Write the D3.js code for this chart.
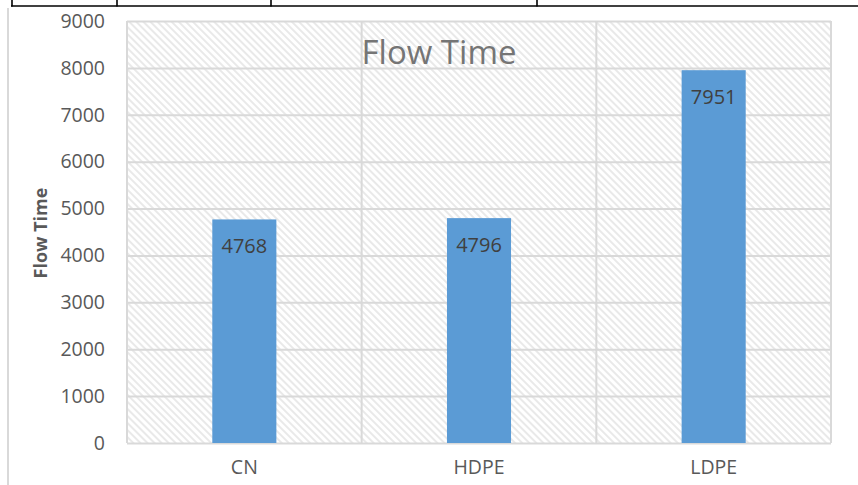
<!DOCTYPE html>
<html><head><meta charset="utf-8">
<script src="https://cdn.jsdelivr.net/npm/d3@7/dist/d3.min.js"></script>
<style>html,body{margin:0;padding:0;background:#fff;}svg{display:block;}</style>
</head><body>
<script>
const categories = ["CN", "HDPE", "LDPE"];
const values = [4768, 4796, 7951];
const yTicks = [0, 1000, 2000, 3000, 4000, 5000, 6000, 7000, 8000, 9000];
const chartTitle = "Flow Time";
const yAxisTitle = "Flow Time";

const W = 858, H = 485;
const plot = {left: 127, right: 831, top: 21, bottom: 443};
const font = "'Open Sans', 'Liberation Sans', sans-serif";

const svg = d3.select("body").append("svg").attr("width", W).attr("height", H);

const defs = svg.append("defs");
const pat = defs.append("pattern").attr("id", "hatch").attr("patternUnits", "userSpaceOnUse")
  .attr("width", 5).attr("height", 5).attr("patternTransform", "rotate(-45)");
pat.append("rect").attr("width", 5).attr("height", 5).attr("fill", "#ffffff");
pat.append("line").attr("x1", 1).attr("y1", 0).attr("x2", 1).attr("y2", 5)
  .attr("stroke", "#e9e9e9").attr("stroke-width", 2);

// top table lines
svg.append("line").attr("x1", 11).attr("x2", W).attr("y1", 6).attr("y2", 6).attr("stroke", "#000").attr("stroke-width", 1.6);
[12, 117, 271, 537].forEach(x => svg.append("line").attr("x1", x).attr("x2", x).attr("y1", 0).attr("y2", 6.5).attr("stroke", "#000").attr("stroke-width", 1.6));
// chart frame left edge
svg.append("line").attr("x1", 8).attr("x2", 8).attr("y1", 8).attr("y2", H).attr("stroke", "#d9d9d9").attr("stroke-width", 2);

const x = d3.scaleBand().domain(categories).range([plot.left, plot.right]).paddingInner(0.727).paddingOuter(0.3635);
const xCat = d3.scaleBand().domain(categories).range([plot.left, plot.right]).padding(0);
const y = d3.scaleLinear().domain([0, 9000]).range([plot.bottom, plot.top]);

// plot background
svg.append("rect").attr("x", plot.left).attr("y", plot.top).attr("width", plot.right - plot.left).attr("height", plot.bottom - plot.top).attr("fill", "url(#hatch)");

// horizontal gridlines
const yAxis = d3.axisLeft(y).tickValues(yTicks).tickSize(-(plot.right - plot.left)).tickPadding(22).tickFormat(d3.format("d"));
const gy = svg.append("g").attr("transform", `translate(${plot.left},0)`).call(yAxis);
gy.select(".domain").remove();
gy.selectAll(".tick line").attr("stroke", "#d9d9d9").attr("stroke-width", 2);
gy.selectAll(".tick text").attr("fill", "#595959").style("font-family", font).style("font-size", "19.5px");

// vertical category gridlines
const vb = categories.map(c => xCat(c)).concat([plot.right]);
svg.append("g").selectAll("line").data(vb).join("line")
  .attr("x1", d => d).attr("x2", d => d).attr("y1", plot.top).attr("y2", plot.bottom)
  .attr("stroke", "#d9d9d9").attr("stroke-width", 2);

// bars
svg.append("g").selectAll("rect").data(values).join("rect")
  .attr("x", (d, i) => x(categories[i])).attr("width", x.bandwidth())
  .attr("y", d => y(d)).attr("height", d => plot.bottom - y(d))
  .attr("fill", "#5b9bd5");

// data labels
svg.append("g").selectAll("text").data(values).join("text")
  .attr("x", (d, i) => x(categories[i]) + x.bandwidth() / 2)
  .attr("y", d => y(d) + 34)
  .attr("text-anchor", "middle").attr("fill", "#404040")
  .style("font-family", font).style("font-size", "20px")
  .text(d => d);

// x axis
const xAxis = d3.axisBottom(xCat).tickSize(0).tickPadding(17);
const gx = svg.append("g").attr("transform", `translate(0,${plot.bottom})`).call(xAxis);
gx.select(".domain").remove();
gx.selectAll(".tick text").attr("fill", "#595959").style("font-family", font).style("font-size", "19.5px");

// title
svg.append("text").attr("x", 439).attr("y", 64).attr("text-anchor", "middle")
  .attr("fill", "#757575").style("font-family", font).style("font-size", "33px").text(chartTitle);

// y axis title
svg.append("text").attr("transform", `translate(47,233) rotate(-90)`).attr("text-anchor", "middle")
  .attr("fill", "#595959").style("font-family", font).style("font-size", "18px").style("font-weight", "bold").text(yAxisTitle);
</script>
</body></html>
